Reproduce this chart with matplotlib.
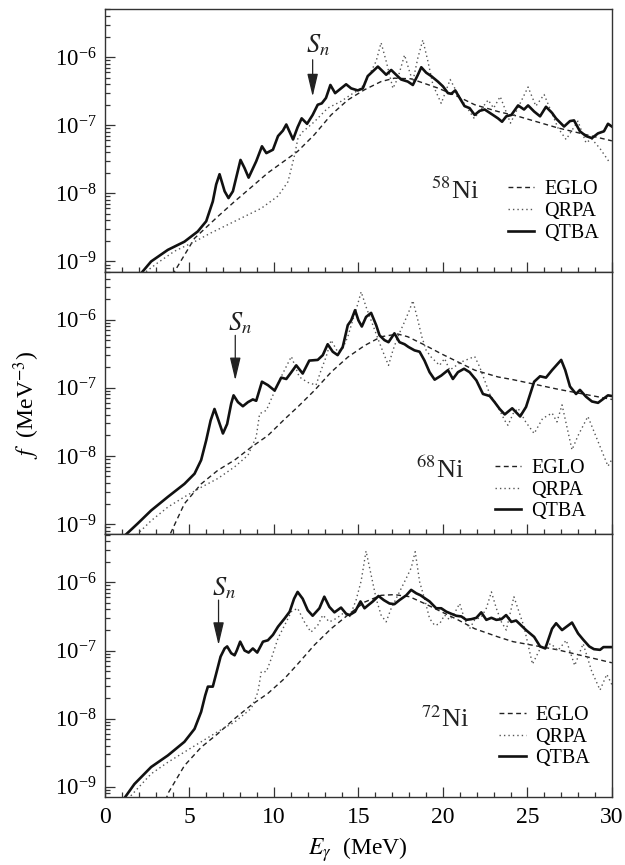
import numpy as np
import matplotlib
matplotlib.use("Agg")
import matplotlib.pyplot as plt
from matplotlib.lines import Line2D
from matplotlib.ticker import LogLocator, NullFormatter, MultipleLocator

plt.rcParams['font.family'] = ['Liberation Serif', 'DejaVu Serif']
plt.rcParams['mathtext.fontset'] = 'stix'

# energies in MeV, strength functions stored as log10(f / MeV^-3)

# ---- 58Ni ----
ni58_qtba_e = [2.05, 2.73, 3.72, 4.70, 5.49, 5.99, 6.38, 6.58, 6.78, 7.08,
               7.31, 7.57, 8.02, 8.26, 8.50, 8.95, 9.29, 9.55, 9.94, 10.24,
               10.53, 10.73, 10.93, 11.13, 11.40, 11.64, 11.96, 12.29, 12.59, 12.83,
               13.08, 13.34, 13.62, 13.87, 14.27, 14.57, 14.96, 15.26, 15.55, 15.85,
               16.15, 16.44, 16.64, 16.94, 17.23, 17.53, 17.92, 18.22, 18.52, 18.72,
               19.01, 19.31, 19.70, 20.00, 20.30, 20.49, 20.73, 20.99, 21.28, 21.58,
               21.88, 22.17, 22.47, 22.96, 23.26, 23.50, 23.75, 24.05, 24.45, 24.80,
               25.04, 25.40, 25.75, 26.10, 26.46, 26.69, 27.17, 27.52, 27.76, 28.11,
               28.47, 28.82, 29.18, 29.53, 29.77, 30.00]
ni58_qtba_lg = [-9.20, -9.00, -8.83, -8.71, -8.56, -8.41, -8.12, -7.87, -7.72, -7.97,
                -8.07, -7.97, -7.51, -7.63, -7.77, -7.53, -7.31, -7.41, -7.36, -7.16,
                -7.08, -6.99, -7.10, -7.21, -7.03, -6.90, -6.98, -6.85, -6.70, -6.68,
                -6.60, -6.41, -6.53, -6.48, -6.40, -6.46, -6.49, -6.46, -6.28, -6.21,
                -6.14, -6.21, -6.26, -6.19, -6.26, -6.33, -6.36, -6.41, -6.26, -6.15,
                -6.23, -6.28, -6.36, -6.43, -6.53, -6.54, -6.49, -6.60, -6.72, -6.75,
                -6.85, -6.79, -6.77, -6.85, -6.90, -6.95, -6.87, -6.85, -6.71, -6.77,
                -6.71, -6.80, -6.87, -6.73, -6.82, -6.90, -7.02, -6.94, -6.93, -7.09,
                -7.16, -7.19, -7.12, -7.09, -6.98, -7.02]
ni58_eglo_e = [4.00, 4.11, 5.30, 6.68, 7.67, 8.66, 9.64, 11.40, 12.39, 13.38,
               14.37, 15.36, 16.34, 17.13, 18.12, 19.70, 20.89, 21.88, 23.26, 24.45,
               26.80, 30.00]
ni58_eglo_lg = [-9.20, -9.15, -8.66, -8.34, -8.12, -7.91, -7.70, -7.385, -7.14, -6.85,
                -6.63, -6.48, -6.36, -6.31, -6.32, -6.455, -6.58, -6.70, -6.80, -6.87,
                -7.04, -7.23]
ni58_qrpa_e = [2.43, 3.12, 4.11, 5.30, 6.28, 7.27, 8.26, 9.25, 10.24, 10.83,
               11.23, 11.42, 11.69, 12.39, 13.18, 13.97, 14.57, 15.16, 15.65, 16.05,
               16.34, 16.64, 17.04, 17.33, 17.73, 18.02, 18.22, 18.52, 18.81, 19.11,
               19.41, 19.90, 20.43, 20.90, 21.85, 22.68, 23.00, 23.39, 24.00, 25.04,
               25.50, 25.99, 26.81, 27.29, 27.99, 28.47, 28.80, 29.29, 29.90]
ni58_qrpa_lg = [-9.15, -9.02, -8.85, -8.71, -8.58, -8.46, -8.34, -8.22, -8.04, -7.83,
                -7.43, -7.19, -7.10, -6.95, -6.75, -6.65, -6.55, -6.46, -6.26, -6.06,
                -5.79, -6.06, -6.46, -6.31, -5.97, -6.21, -6.36, -6.01, -5.75, -6.06,
                -6.41, -6.68, -6.33, -6.55, -6.90, -6.63, -6.75, -6.58, -6.97, -6.44,
                -6.72, -6.55, -7.04, -7.21, -6.94, -7.26, -7.20, -7.34, -7.56]

# ---- 68Ni ----
ni68_qtba_e = [1.25, 1.94, 2.73, 3.72, 4.70, 5.30, 5.69, 5.99, 6.25, 6.48,
               6.72, 6.98, 7.23, 7.47, 7.61, 7.87, 8.16, 8.46, 8.75, 8.95,
               9.29, 9.64, 10.04, 10.43, 10.73, 11.03, 11.32, 11.70, 12.09, 12.59,
               12.89, 13.18, 13.48, 13.77, 14.07, 14.37, 14.57, 14.80, 15.00, 15.20,
               15.45, 15.75, 16.05, 16.25, 16.54, 16.78, 17.13, 17.43, 17.73, 17.96,
               18.32, 18.62, 18.91, 19.21, 19.51, 19.90, 20.30, 20.59, 20.89, 21.25,
               21.58, 21.98, 22.37, 22.77, 23.06, 23.36, 23.66, 24.10, 24.57, 24.92,
               25.40, 25.75, 26.10, 26.46, 27.00, 27.24, 27.52, 27.88, 28.11, 28.47,
               28.82, 29.18, 29.77, 30.00]
ni68_qtba_lg = [-9.15, -8.99, -8.80, -8.60, -8.41, -8.26, -8.06, -7.77, -7.48, -7.31,
                -7.48, -7.67, -7.53, -7.23, -7.11, -7.21, -7.27, -7.21, -7.17, -7.19,
                -6.91, -6.96, -7.04, -6.85, -6.87, -6.77, -6.67, -6.79, -6.60, -6.59,
                -6.52, -6.36, -6.47, -6.52, -6.40, -6.08, -6.01, -5.86, -6.01, -6.10,
                -5.96, -5.90, -6.08, -6.23, -6.30, -6.33, -6.20, -6.33, -6.36, -6.40,
                -6.45, -6.47, -6.60, -6.77, -6.88, -6.82, -6.74, -6.87, -6.77, -6.72,
                -6.77, -6.89, -7.09, -7.12, -7.21, -7.31, -7.39, -7.30, -7.42, -7.28,
                -6.91, -6.83, -6.85, -6.74, -6.59, -6.74, -6.98, -7.09, -7.03, -7.13,
                -7.20, -7.22, -7.11, -7.12]
ni68_eglo_e = [3.70, 3.87, 4.70, 5.69, 6.68, 7.67, 8.66, 9.64, 10.63, 11.45,
               12.39, 13.38, 14.37, 15.36, 16.34, 17.33, 17.92, 18.91, 19.90, 20.89,
               21.88, 23.26, 24.15, 26.80, 30.00]
ni68_eglo_lg = [-9.25, -9.14, -8.70, -8.41, -8.21, -8.06, -7.87, -7.70, -7.46, -7.27,
                -7.04, -6.77, -6.55, -6.38, -6.25, -6.21, -6.25, -6.37, -6.50, -6.62,
                -6.74, -6.84, -6.88, -7.02, -7.17]
ni68_qrpa_e = [1.50, 1.74, 2.73, 3.72, 4.70, 5.69, 6.68, 7.67, 8.46, 8.95,
               9.15, 9.55, 10.04, 10.50, 11.03, 11.50, 12.00, 12.49, 12.79, 13.08,
               13.38, 13.77, 14.07, 14.37, 14.66, 14.96, 15.16, 15.45, 15.75, 16.05,
               16.34, 16.58, 16.78, 17.04, 17.33, 17.73, 18.02, 18.22, 18.52, 18.75,
               19.01, 19.31, 19.80, 20.10, 20.40, 21.09, 21.58, 21.88, 22.17, 22.47,
               22.77, 23.26, 23.66, 23.85, 24.15, 24.45, 24.90, 25.40, 25.90, 26.46,
               26.75, 27.05, 27.64, 28.00, 28.58, 29.20, 29.77, 30.00]
ni68_qrpa_lg = [-9.25, -9.19, -8.95, -8.75, -8.60, -8.46, -8.33, -8.16, -7.99, -7.72,
                -7.38, -7.33, -7.05, -6.80, -6.54, -6.84, -6.92, -6.96, -6.74, -6.55,
                -6.30, -6.47, -6.42, -6.25, -6.01, -5.77, -5.59, -5.81, -6.01, -6.21,
                -6.40, -6.55, -6.67, -6.45, -6.25, -6.03, -5.86, -5.72, -6.01, -6.25,
                -6.45, -6.55, -6.67, -6.57, -6.74, -6.62, -6.57, -6.54, -6.69, -6.89,
                -7.09, -7.28, -7.48, -7.55, -7.38, -7.30, -7.50, -7.67, -7.45, -7.37,
                -7.50, -7.25, -7.91, -7.70, -7.42, -7.80, -8.15, -8.05]

# ---- 72Ni ----
ni72_qtba_e = [1.00, 1.11, 1.74, 2.73, 3.72, 4.70, 5.30, 5.69, 5.93, 6.09,
               6.38, 6.58, 6.84, 7.08, 7.23, 7.47, 7.67, 7.80, 8.00, 8.26,
               8.50, 8.75, 9.01, 9.35, 9.64, 9.94, 10.24, 10.63, 10.93, 11.19,
               11.40, 11.70, 12.00, 12.29, 12.69, 12.98, 13.28, 13.58, 13.97, 14.27,
               14.47, 14.80, 15.12, 15.36, 15.55, 15.85, 16.19, 16.50, 16.84, 17.13,
               17.43, 17.83, 18.12, 18.42, 18.68, 18.91, 19.21, 19.60, 19.90, 20.20,
               20.49, 20.79, 21.09, 21.38, 21.68, 21.98, 22.27, 22.57, 22.87, 23.16,
               23.46, 23.74, 24.05, 24.33, 24.92, 25.40, 25.75, 26.06, 26.46, 26.70,
               27.05, 27.64, 28.00, 28.30, 28.66, 28.94, 29.30, 29.50, 30.00]
ni72_qtba_lg = [-9.25, -9.18, -8.96, -8.71, -8.54, -8.34, -8.15, -7.90, -7.66, -7.53,
                -7.53, -7.34, -7.09, -6.97, -6.94, -7.04, -7.07, -7.00, -6.87, -7.00,
                -7.03, -6.97, -7.03, -6.87, -6.85, -6.77, -6.65, -6.53, -6.43, -6.24,
                -6.14, -6.24, -6.41, -6.49, -6.38, -6.21, -6.36, -6.44, -6.37, -6.46,
                -6.48, -6.43, -6.28, -6.38, -6.34, -6.28, -6.20, -6.26, -6.31, -6.32,
                -6.26, -6.19, -6.11, -6.16, -6.19, -6.23, -6.28, -6.38, -6.38, -6.43,
                -6.46, -6.49, -6.50, -6.55, -6.54, -6.52, -6.44, -6.55, -6.52, -6.55,
                -6.54, -6.48, -6.58, -6.56, -6.70, -6.80, -6.94, -6.97, -6.68, -6.60,
                -6.70, -6.59, -6.75, -6.84, -6.94, -6.98, -6.99, -6.95, -6.95]
ni72_eglo_e = [3.60, 3.72, 4.70, 5.69, 6.68, 7.67, 8.66, 9.64, 10.63, 11.40,
               12.39, 13.38, 14.37, 15.36, 16.34, 17.13, 18.02, 18.91, 19.90, 20.89,
               21.88, 23.26, 24.15, 26.80, 30.00]
ni72_eglo_lg = [-9.20, -9.10, -8.69, -8.42, -8.22, -8.00, -7.80, -7.63, -7.41, -7.20,
                -6.92, -6.68, -6.48, -6.29, -6.19, -6.18, -6.21, -6.31, -6.43, -6.55,
                -6.68, -6.80, -6.87, -6.99, -7.18]
ni72_qrpa_e = [1.30, 1.54, 2.73, 3.72, 4.70, 5.69, 6.68, 7.67, 8.66, 9.05,
               9.25, 9.55, 9.84, 10.24, 10.63, 11.03, 11.40, 11.80, 12.19, 12.59,
               12.89, 13.28, 13.68, 14.07, 14.47, 14.86, 15.16, 15.45, 15.75, 16.05,
               16.34, 16.64, 16.94, 17.33, 17.73, 18.12, 18.36, 18.62, 18.91, 19.21,
               19.51, 19.80, 20.10, 20.40, 20.69, 20.99, 21.28, 21.58, 21.88, 22.27,
               22.57, 22.87, 23.16, 23.46, 23.75, 24.05, 24.20, 24.80, 25.30, 25.80,
               26.40, 26.80, 27.30, 27.80, 28.30, 28.80, 29.30, 29.70, 30.00]
ni72_qrpa_lg = [-9.25, -9.13, -8.81, -8.64, -8.49, -8.34, -8.19, -8.05, -7.85, -7.61,
                -7.31, -7.31, -7.12, -6.82, -6.63, -6.43, -6.38, -6.58, -6.73, -6.63,
                -6.48, -6.58, -6.53, -6.46, -6.51, -6.26, -5.98, -5.54, -5.89, -6.24,
                -6.48, -6.58, -6.38, -6.19, -5.99, -5.79, -5.55, -5.99, -6.24, -6.53,
                -6.63, -6.61, -6.48, -6.55, -6.45, -6.31, -6.54, -6.68, -6.55, -6.51,
                -6.38, -6.14, -6.38, -6.58, -6.70, -6.38, -6.21, -6.65, -7.20, -6.95,
                -6.90, -7.00, -6.85, -7.22, -6.90, -7.30, -7.58, -7.35, -7.50]

nuclei = [r'$^{58}$Ni', r'$^{68}$Ni', r'$^{72}$Ni']
sn_energy = [12.29, 7.71, 6.72]          # neutron separation energies (MeV)

panels = [
    (ni58_eglo_e, ni58_eglo_lg, ni58_qrpa_e, ni58_qrpa_lg, ni58_qtba_e, ni58_qtba_lg),
    (ni68_eglo_e, ni68_eglo_lg, ni68_qrpa_e, ni68_qrpa_lg, ni68_qtba_e, ni68_qtba_lg),
    (ni72_eglo_e, ni72_eglo_lg, ni72_qrpa_e, ni72_qrpa_lg, ni72_qtba_e, ni72_qtba_lg),
]

# layout bits (not data)
sn_arrow_lg = [(-6.04, -6.58, -5.83), (-6.23, -6.89, -6.05), (-6.26, -6.92, -6.08)]
label_pos = [(20.7, -7.97), (19.8, -8.21), (20.15, -8.00)]
legend_pos = [(0.795, 0.229), (0.770, 0.168), (0.778, 0.228)]

eglo_style = dict(color='#222222', lw=1.0, ls=(0, (3.5, 2.5)))
qrpa_style = dict(color='#555555', lw=1.0, ls=(0, (1, 2.2)))
qtba_style = dict(color='#111111', lw=1.9, ls='-')

fig, axes = plt.subplots(3, 1, sharex=True, figsize=(6.25, 8.65), dpi=100)
fig.subplots_adjust(left=0.168, right=0.979, bottom=0.0786, top=0.9896, hspace=0)

for i, ax in enumerate(axes):
    ee, el, qe, ql, te, tl = panels[i]
    ax.plot(ee, np.power(10.0, el), **eglo_style)
    ax.plot(qe, np.power(10.0, ql), **qrpa_style)
    ax.plot(te, np.power(10.0, tl), **qtba_style)

    ax.set_yscale('log')
    ax.set_xlim(0, 30)
    ax.set_ylim(10 ** -9.15, 10 ** -5.295)
    ax.set_yticks([1e-9, 1e-8, 1e-7, 1e-6])
    ax.yaxis.set_minor_locator(LogLocator(base=10, subs=np.arange(2, 10), numticks=20))
    ax.yaxis.set_minor_formatter(NullFormatter())
    ax.xaxis.set_major_locator(MultipleLocator(5))
    ax.xaxis.set_minor_locator(MultipleLocator(1))
    ax.tick_params(which='both', direction='in', top=False, right=False, width=0.9,
                   color='#333333')
    ax.tick_params(which='major', length=7)
    ax.tick_params(which='minor', length=3.5)
    ax.tick_params(axis='y', labelsize=16.5, pad=6)
    ax.tick_params(axis='x', labelsize=17, pad=7)
    for sp in ax.spines.values():
        sp.set_linewidth(1.0)
        sp.set_color('#333333')

    # S_n arrow
    tail, tip, txt = sn_arrow_lg[i]
    ax.annotate('', xy=(sn_energy[i], 10 ** tip), xytext=(sn_energy[i], 10 ** tail),
                arrowprops=dict(arrowstyle='-|>,head_length=1.4,head_width=0.33',
                                lw=0.9, color='#222222', shrinkA=0, shrinkB=0,
                                mutation_scale=10))
    ax.text(sn_energy[i] + 0.3, 10 ** txt, r'$S_n$', fontsize=19,
            ha='center', va='center', color='#222222')

    ax.text(label_pos[i][0], 10 ** label_pos[i][1], nuclei[i], fontsize=19,
            ha='center', va='center', color='#222222')

    handles = [Line2D([], [], **eglo_style), Line2D([], [], **qrpa_style),
               Line2D([], [], **qtba_style)]
    ax.legend(handles, ['EGLO', 'QRPA', 'QTBA'], loc='center left',
              bbox_to_anchor=legend_pos[i], frameon=False, fontsize=14.5,
              handlelength=1.3, handletextpad=0.5, labelspacing=0.13,
              borderpad=0, borderaxespad=0)

axes[2].set_xticks([0, 5, 10, 15, 20, 25, 30])

fig.text(27 / 625, 1 - 405 / 865, r'$f$  (MeV$^{-3}$)', rotation=90,
         ha='center', va='center', fontsize=17)
fig.text(358 / 625, 1 - 850 / 865, r'$E_\gamma$  (MeV)', ha='center', va='center',
         fontsize=17)

fig.savefig('out.png', dpi=100)
